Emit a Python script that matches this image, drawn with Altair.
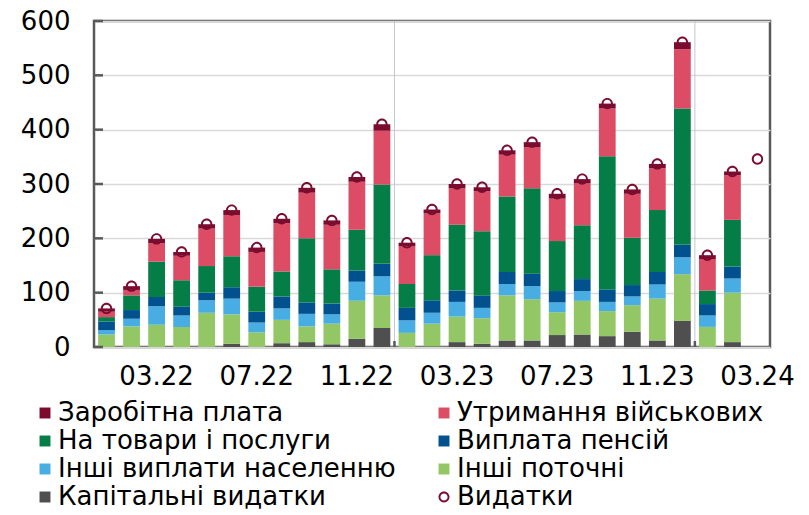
import altair as alt
import pandas as pd

months = ["01.22", "02.22", "03.22", "04.22", "05.22", "06.22", "07.22", "08.22", "09.22",
          "10.22", "11.22", "12.22", "01.23", "02.23", "03.23", "04.23", "05.23", "06.23",
          "07.23", "08.23", "09.23", "10.23", "11.23", "12.23", "01.24", "02.24", "03.24"]
x_labels = ["03.22", "07.22", "11.22", "03.23", "07.23", "11.23", "03.24"]
year_starts = ["01.23", "01.24"]
y_ticks = [0, 100, 200, 300, 400, 500, 600]

# bar components, 01.22 .. 02.24
zarplata = [6, 7, 8, 7, 8, 9, 8, 8, 9, 8, 9, 12, 7, 7, 8, 7, 8, 9, 9, 8, 9, 8, 8, 13, 7, 7]
viyskovi = [10, 10, 34, 45, 69, 76, 64, 89, 84, 82, 88, 99, 69, 77, 67, 74, 77, 76, 78, 77, 88, 81, 77, 109, 58, 82]
tovary = [8, 27, 65, 49, 49, 57, 46, 46, 118, 63, 75, 146, 44, 83, 121, 118, 139, 157, 92, 99, 245, 87, 114, 251, 25, 86]
pensii = [16, 16, 17, 16, 14, 21, 20, 22, 21, 20, 21, 23, 23, 23, 21, 23, 22, 23, 21, 22, 23, 21, 23, 23, 21, 22]
inshi_vyplaty = [8, 14, 34, 21, 23, 29, 18, 21, 23, 17, 35, 35, 23, 20, 27, 19, 21, 24, 18, 18, 17, 16, 26, 31, 21, 26]
inshi_potochni = [23, 38, 41, 37, 63, 54, 27, 43, 29, 38, 70, 60, 26, 42, 47, 47, 83, 76, 42, 62, 46, 49, 77, 86, 37, 91]
kapitalni = [0, 0, 0, 0, 0, 6, 0, 7, 9, 5, 15, 35, 0, 1, 9, 6, 12, 12, 22, 23, 20, 28, 12, 48, 0, 9]
# total expenditures, 01.22 .. 03.24
vydatky = [71, 112, 199, 175, 226, 252, 183, 236, 293, 233, 313, 410, 192, 253, 300, 294, 362, 377,
           282, 309, 448, 290, 337, 561, 169, 323, 346]

series_names = ["Заробітна плата", "Утримання військових", "На товари і послуги", "Виплата пенсій",
                "Інші виплати населенню", "Інші поточні", "Капітальні видатки", "Видатки"]
series_colors = ["#7b0c30", "#dc4c64", "#057d46", "#00518e", "#47ade3", "#93c665", "#4f4f4f", "#7b0c30"]
ring = "M-1,0A1,1,0,1,0,1,0A1,1,0,1,0,-1,0ZM-0.66,0A0.66,0.66,0,1,1,0.66,0A0.66,0.66,0,1,1,-0.66,0Z"
series_shapes = ["square"] * 7 + [ring]

stack_bottom_up = [("Капітальні видатки", kapitalni), ("Інші поточні", inshi_potochni),
                   ("Інші виплати населенню", inshi_vyplaty), ("Виплата пенсій", pensii),
                   ("На товари і послуги", tovary), ("Утримання військових", viyskovi),
                   ("Заробітна плата", zarplata)]

rows = []
for k, (name, vals) in enumerate(stack_bottom_up):
    for m, v in zip(months, vals):
        rows.append({"month": m, "series": name, "value": v, "order": k})
bars_df = pd.DataFrame(rows)
tot_df = pd.DataFrame({"month": months, "series": "Видатки", "value": vydatky})
years_df = pd.DataFrame({"month": year_starts})
yt_df = pd.DataFrame({"v": y_ticks})

FONT = "DejaVu Sans"
FS = 26
FRAME = "#595959"
W, H = 676, 326
HALF_STEP = W / len(months) / 2

legend = alt.Legend(title=None, orient="none", legendX=-62, legendY=379, columns=2,
                    direction="horizontal", columnPadding=35, rowPadding=2, symbolSize=120,
                    symbolType="square", labelFontSize=FS, labelFont=FONT, labelColor="black",
                    labelOffset=0, padding=0, labelLimit=500, symbolStrokeWidth=0)

x_scale = alt.Scale(domain=months, paddingInner=0, paddingOuter=0)
y_scale = alt.Scale(domain=[0, 600], nice=False)
color = alt.Color("series:N", scale=alt.Scale(domain=series_names, range=series_colors), legend=legend)

x_axis = alt.Axis(values=x_labels, labelAngle=0, labelAlign="center", bandPosition=0.5,
                  ticks=False, tickSize=0, domain=False, labelPadding=16, labelFontSize=FS,
                  labelFont=FONT, labelColor="black", grid=False, labelOverlap=False, title=None)
y_axis = alt.Axis(values=y_ticks, grid=True, gridColor="#d9d9d9", gridWidth=1.5, domain=False,
                  ticks=False, tickSize=0, labelPadding=24, labelFontSize=FS, labelFont=FONT,
                  labelColor="black", title=None)

seps = alt.Chart(years_df).mark_rule(color="#c3c7cc", strokeWidth=1, xOffset=-HALF_STEP).encode(
    x=alt.X("month:O", scale=x_scale, axis=x_axis, title=None)
)

bars = alt.Chart(bars_df).mark_bar(width={"band": 0.67}).encode(
    x=alt.X("month:O", scale=x_scale, axis=x_axis, title=None),
    y=alt.Y("value:Q", stack="zero", scale=y_scale, axis=y_axis, title=None),
    color=color,
    order=alt.Order("order:Q", sort="ascending"),
)

points = alt.Chart(tot_df).mark_point(filled=True, size=130, opacity=1).encode(
    x=alt.X("month:O", scale=x_scale, axis=x_axis, title=None),
    y=alt.Y("value:Q", stack=None, scale=y_scale, axis=y_axis, title=None),
    color=color,
    shape=alt.Shape("series:N", scale=alt.Scale(domain=series_names, range=series_shapes), legend=legend),
)

bottom_ticks = alt.Chart(years_df).mark_rule(color=FRAME, strokeWidth=2.5, xOffset=-HALF_STEP).encode(
    x=alt.X("month:O", scale=x_scale, axis=x_axis, title=None),
    y=alt.value(320), y2=alt.value(326),
)

left_ticks = alt.Chart(yt_df).mark_rule(color=FRAME, strokeWidth=2.5).encode(
    y=alt.Y("v:Q", scale=y_scale, axis=y_axis, title=None),
    x=alt.value(0), x2=alt.value(9),
)

chart = alt.layer(seps, bars, points, bottom_ticks, left_ticks).properties(
    width=W, height=H,
    autosize=alt.AutoSizeParams(type="none"),
    padding={"left": 86, "top": 13, "right": 25, "bottom": 170},
).configure_view(stroke=FRAME, strokeWidth=2.5)

chart.save("out.html", embed_options={"renderer": "svg", "actions": False})
